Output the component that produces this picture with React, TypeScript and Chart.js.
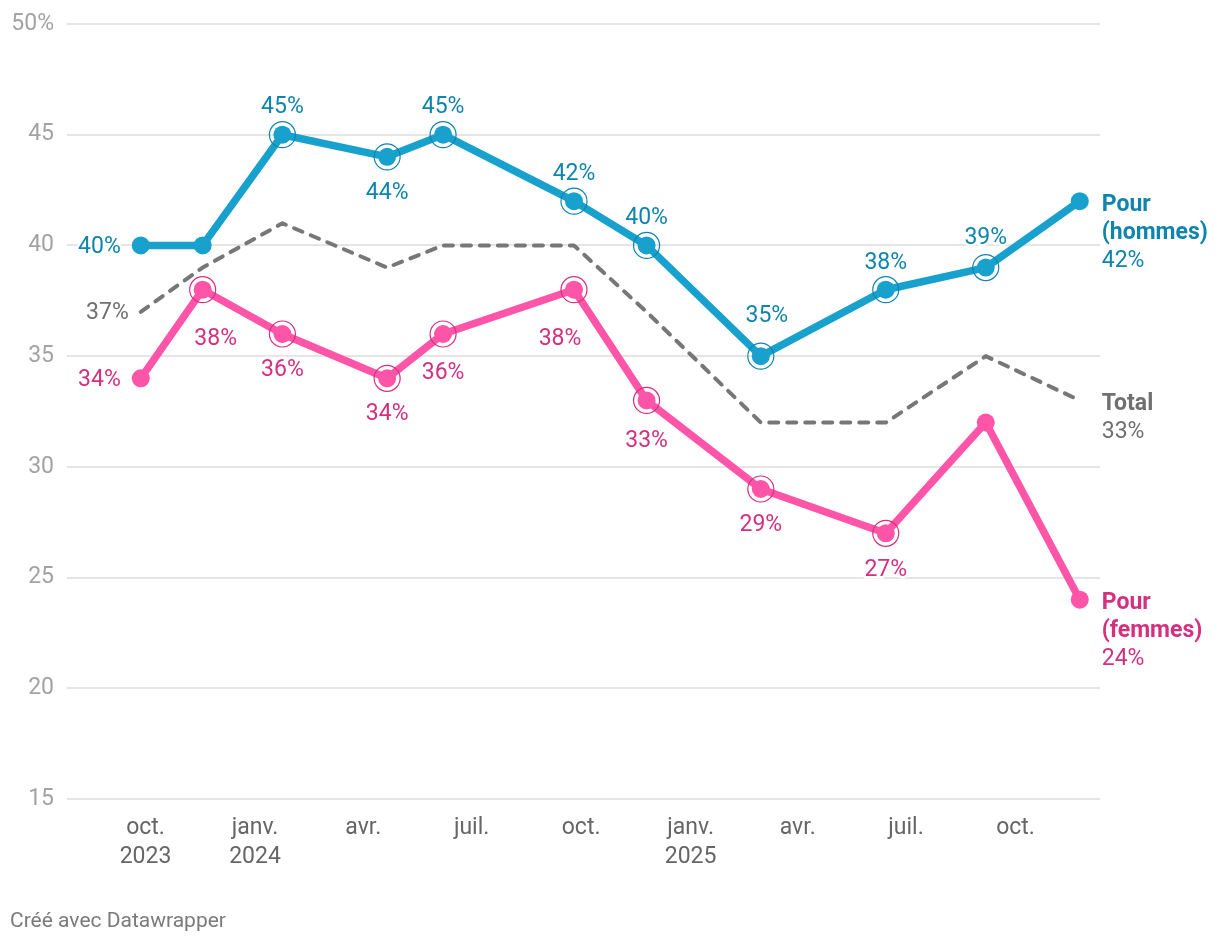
import React, { useEffect, useRef } from 'react';
import { Chart, registerables } from 'chart.js';

Chart.register(...registerables);

// ---------- data ----------
const surveyDates = ['2023-09-27', '2023-11-18', '2024-01-24', '2024-04-21', '2024-06-07', '2024-09-25', '2024-11-25', '2025-03-01', '2025-06-14', '2025-09-06', '2025-11-24'];
const hommes = [40, 40, 45, 44, 45, 42, 40, 35, 38, 39, 42];
const femmes = [34, 38, 36, 34, 36, 38, 33, 29, 27, 32, 24];
const total = [37, 39, 41, 39, 40, 40, 37, 32, 32, 35, 33];

const tickDates = ['2023-10-01', '2024-01-01', '2024-04-01', '2024-07-01', '2024-10-01', '2025-01-01', '2025-04-01', '2025-07-01', '2025-10-01'];
const tickLabels: string[][] = [['oct.', '2023'], ['janv.', '2024'], ['avr.'], ['juil.'], ['oct.'], ['janv.', '2025'], ['avr.'], ['juil.'], ['oct.']];
const yTicks = [15, 20, 25, 30, 35, 40, 45, 50];
const xDomain = ['2023-07-27', '2025-12-11'];

const hommesRinged = [2, 3, 4, 5, 6, 7, 8, 9];
const femmesRinged = [1, 2, 3, 4, 5, 6, 7, 8];

// ---------- label placement (style) ----------
type Lab = { i: number; dx: number; dy: number; align?: CanvasTextAlign };
const hommesLabels: Lab[] = [
  { i: 0, dx: -20, dy: 0, align: 'right' },
  { i: 2, dx: 0, dy: -29 },
  { i: 3, dx: 0, dy: 34 },
  { i: 4, dx: 0, dy: -29 },
  { i: 5, dx: 0, dy: -29 },
  { i: 6, dx: 0, dy: -29 },
  { i: 7, dx: 6, dy: -42 },
  { i: 8, dx: 0, dy: -28 },
  { i: 9, dx: 0, dy: -31 },
];
const femmesLabels: Lab[] = [
  { i: 0, dx: -20, dy: 0, align: 'right' },
  { i: 1, dx: 13, dy: 48 },
  { i: 2, dx: 0, dy: 34 },
  { i: 3, dx: 0, dy: 34 },
  { i: 4, dx: 0, dy: 37 },
  { i: 5, dx: -14, dy: 48 },
  { i: 6, dx: 0, dy: 39 },
  { i: 7, dx: 0, dy: 34 },
  { i: 8, dx: 0, dy: 35 },
];
const totalLabels: Lab[] = [{ i: 0, dx: -12, dy: -1, align: 'right' }];
const TEXT_SHIFT = 2;

const BLUE = '#18a1cd';
const BLUE_TXT = '#0f85ad';
const PINK = '#ff55a8';
const PINK_TXT = '#d4307f';
const GREY = '#777777';
const GREY_TXT = '#707070';
const FONT = 'Roboto';
const FS = 23;

const dayNum = (d: string) => Date.parse(d + 'T00:00:00Z') / 86400000;
const pts = (vals: number[]) => vals.map((v, i) => ({ x: dayNum(surveyDates[i]), y: v }));

const labelPlugin = {
  id: 'dwLabels',
  afterDatasetsDraw(chart: any) {
    const ctx: CanvasRenderingContext2D = chart.ctx;
    const groups = [
      { ds: 1, vals: hommes, labs: hommesLabels, color: BLUE_TXT, name: ['Pour', '(hommes)'] },
      { ds: 3, vals: femmes, labs: femmesLabels, color: PINK_TXT, name: ['Pour', '(femmes)'] },
      { ds: 4, vals: total, labs: totalLabels, color: GREY_TXT, name: ['Total'] },
    ];
    ctx.save();
    ctx.textBaseline = 'middle';
    ctx.lineJoin = 'round';
    const draw = (t: string, x: number, y: number, color: string, align: CanvasTextAlign, bold = false) => {
      ctx.font = `${bold ? 700 : 400} ${FS}px ${FONT}`;
      ctx.textAlign = align;
      ctx.strokeStyle = '#ffffff';
      ctx.lineWidth = 5;
      ctx.strokeText(t, x, y + TEXT_SHIFT);
      ctx.fillStyle = color;
      ctx.fillText(t, x, y + TEXT_SHIFT);
    };
    groups.forEach((g) => {
      const meta = chart.getDatasetMeta(g.ds);
      g.labs.forEach((l) => {
        const el = meta.data[l.i];
        if (!el) return;
        draw(`${g.vals[l.i]}%`, el.x + l.dx, el.y + l.dy, g.color, l.align || 'center');
      });
      const last = meta.data[g.vals.length - 1];
      if (last) {
        const lines = [...g.name, `${g.vals[g.vals.length - 1]}%`];
        lines.forEach((t, k) => {
          draw(t, last.x + 22, last.y + 2 + k * 28, g.color, 'left', k < g.name.length);
        });
      }
    });
    ctx.restore();
  },
};

export default function App() {
  const ref = useRef<HTMLCanvasElement | null>(null);
  useEffect(() => {
    if (!ref.current) return;
    Chart.defaults.font.family = FONT;
    const chart = new Chart(ref.current, {
      type: 'line',
      data: {
        datasets: [
          {
            data: pts(hommes),
            showLine: false,
            pointRadius: (c: any) => (hommesRinged.includes(c.dataIndex) ? 13 : 0),
            pointBackgroundColor: 'rgba(0,0,0,0)',
            pointBorderColor: BLUE_TXT,
            pointBorderWidth: 1.2,
          },
          {
            data: pts(hommes),
            borderColor: BLUE,
            borderWidth: 7.5,
            borderJoinStyle: 'round',
            borderCapStyle: 'round',
            pointRadius: 9,
            pointBackgroundColor: BLUE,
            pointBorderWidth: 0,
          },
          {
            data: pts(femmes),
            showLine: false,
            pointRadius: (c: any) => (femmesRinged.includes(c.dataIndex) ? 13 : 0),
            pointBackgroundColor: 'rgba(0,0,0,0)',
            pointBorderColor: PINK_TXT,
            pointBorderWidth: 1.2,
          },
          {
            data: pts(femmes),
            borderColor: PINK,
            borderWidth: 7.5,
            borderJoinStyle: 'round',
            borderCapStyle: 'round',
            pointRadius: 9,
            pointBackgroundColor: PINK,
            pointBorderWidth: 0,
          },
          {
            data: pts(total),
            borderColor: GREY,
            borderWidth: 4,
            borderDash: [9, 9],
            borderCapStyle: 'round',
            borderJoinStyle: 'round',
            pointRadius: 0,
          },
        ] as any,
      },
      options: {
        animation: false,
        responsive: true,
        maintainAspectRatio: false,
        events: [],
        layout: { padding: { top: 24, right: 120, bottom: 0, left: 0 } },
        plugins: { legend: { display: false }, tooltip: { enabled: false } },
        scales: {
          x: {
            type: 'linear',
            min: dayNum(xDomain[0]),
            max: dayNum(xDomain[1]),
            grid: { display: false },
            border: { display: false },
            afterBuildTicks: (s: any) => {
              s.ticks = tickDates.map((d) => ({ value: dayNum(d) }));
            },
            afterFit: (s: any) => {
              s.height = 147;
              s.paddingLeft = 0;
              s.paddingRight = 0;
            },
            ticks: {
              autoSkip: false,
              maxRotation: 0,
              minRotation: 0,
              padding: 7,
              color: '#666666',
              font: { family: FONT, size: FS, lineHeight: 29 / FS },
              callback: (_v: any, i: number) => tickLabels[i],
            },
          },
          y: {
            type: 'linear',
            min: 15,
            max: 50,
            afterBuildTicks: (s: any) => {
              s.ticks = yTicks.map((v) => ({ value: v }));
            },
            afterFit: (s: any) => {
              s.width = 67;
              s.paddingTop = 0;
              s.paddingBottom = 0;
            },
            grid: { color: '#e5e5e5', lineWidth: 2, drawTicks: false },
            border: { display: false },
            ticks: {
              padding: 13,
              color: '#a3a3a3',
              font: { family: FONT, size: FS },
              callback: (v: any) => (Number(v) === 50 ? '50%' : String(v)),
            },
          },
        },
      } as any,
      plugins: [labelPlugin],
    });
    return () => chart.destroy();
  }, []);

  return (
    <div style={{ position: 'absolute', left: 0, top: 0, width: 1220, height: 946, background: '#fff' }}>
      <div style={{ position: 'absolute', left: 0, top: 0, width: 1220, height: 946 }}>
        <canvas ref={ref} />
      </div>
      <div
        style={{
          position: 'absolute',
          left: 10,
          top: 909,
          fontFamily: FONT,
          fontSize: 21,
          lineHeight: '22px',
          color: '#7a7a7a',
          whiteSpace: 'nowrap',
        }}
      >
        Créé avec Datawrapper
      </div>
    </div>
  );
}
